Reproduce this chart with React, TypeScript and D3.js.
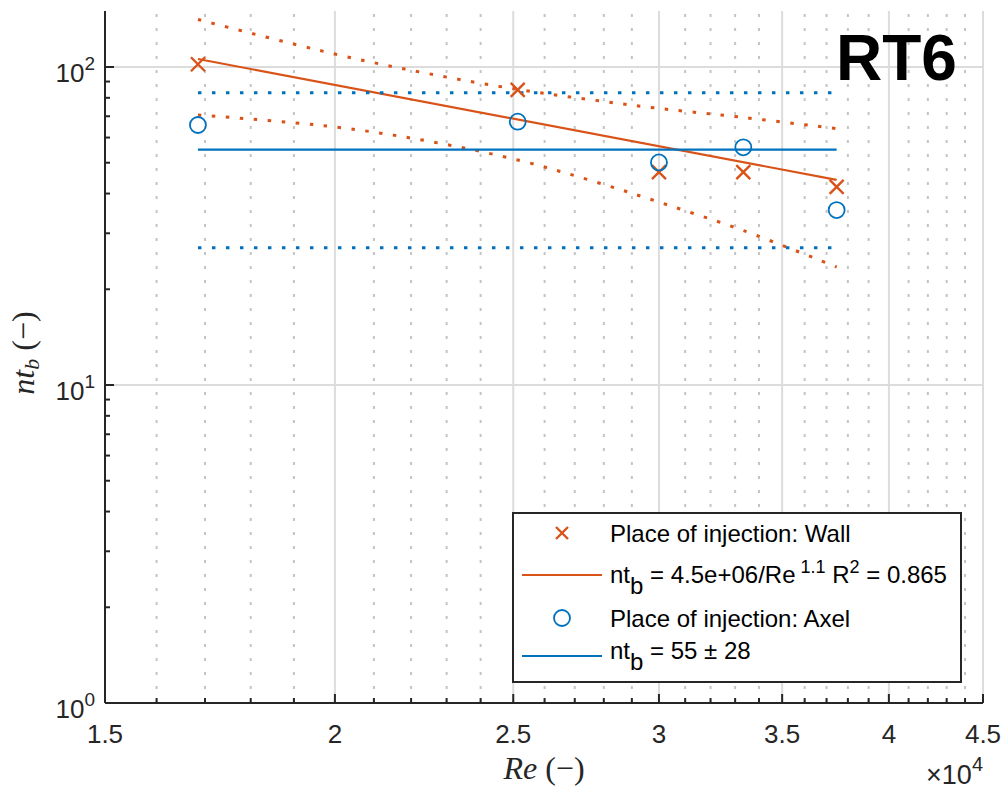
import React from 'react';
import * as d3 from 'd3';

// ---- data ----
const reValues = [16850, 25140, 30000, 33340, 37470];
const ntWall = [102, 84.7, 46.7, 46.7, 42.0];
const ntAxel = [65.7, 67.3, 50.1, 55.9, 35.5];
const bandRe = [16850, 20000, 22500, 25140, 27500, 30000, 33340, 37470];
const wallUpper = [141.1, 109.8, 95.2, 85.0, 79.0, 74.1, 69.4, 64.0];
const wallLower = [70.7, 64.8, 58.4, 51.0, 44.1, 37.6, 30.6, 23.5];
const fitA = 4.5e6;
const fitB = 1.095;
const fitR2 = 0.865;
const axelMean = 55;
const axelSpread = 28;
const xMajorTicks = [1.5e4, 2e4, 2.5e4, 3e4, 3.5e4, 4e4, 4.5e4];
const xTickLabels = ['1.5', '2', '2.5', '3', '3.5', '4', '4.5'];
const yMajorTicks = [1, 10, 100];
const yTickExponents = ['0', '1', '2'];
const legendLabels = ['Place of injection: Wall', 'Place of injection: Axel'];

const ORANGE = '#D95319';
const BLUE = '#0072BD';
const AX = '#262626';
const SANS = '"Liberation Sans", Arial, Helvetica, sans-serif';
const SERIF = '"Liberation Serif", "Times New Roman", serif';

const W = 1006;
const H = 791;
const L = 105, R = 983, T = 11, B = 703;

export default function App() {
  const x = d3.scaleLog().domain([1.5e4, 4.5e4]).range([L, R]);
  const y = d3.scaleLog().domain([1, 150]).range([B, T]);

  const xMinor = d3.range(16000, 45000, 1000).filter((v) => v % 5000 !== 0);
  const yMinor = [1, 10, 100]
    .flatMap((d) => d3.range(2, 10).map((k) => k * d))
    .filter((v) => v <= 150);

  const fit = (re: number) => fitA / Math.pow(re, fitB);
  const reMin = d3.min(reValues)!;
  const reMax = d3.max(reValues)!;

  const band = d3
    .line<number>()
    .x((_, i) => x(bandRe[i]))
    .y((d) => y(d))
    .curve(d3.curveCatmullRom);

  const cross = (cx: number, cy: number, s: number, key?: string) => (
    <path
      key={key}
      d={`M${cx - s},${cy - s}L${cx + s},${cy + s}M${cx - s},${cy + s}L${cx + s},${cy - s}`}
      stroke={ORANGE}
      strokeWidth={2.4}
      fill="none"
    />
  );

  const dotted = { strokeWidth: 3, strokeDasharray: '3.5 10.5' };

  // legend
  const lgX = 513, lgY = 513, lgW = 448, lgH = 169;
  const rowY = [533, 575, 618, 656];
  const txtX = 610;
  const fs = 24;

  return (
    <svg
      width={W}
      height={H}
      style={{ position: 'absolute', left: 0, top: 0, background: '#fff' }}
      fontFamily={SANS}
    >
      <rect x={0} y={0} width={W} height={H} fill="#fff" />
      {/* minor vertical grid */}
      {xMinor.map((v) => (
        <line
          key={'gm' + v}
          x1={x(v)}
          x2={x(v)}
          y1={B}
          y2={T}
          stroke="#c4c4c4"
          strokeWidth={2}
          strokeDasharray="3 11"
        />
      ))}
      {/* major grid */}
      {xMajorTicks.map((v) => (
        <line key={'gx' + v} x1={x(v)} x2={x(v)} y1={B} y2={T} stroke="#dcdcdc" strokeWidth={2} />
      ))}
      {yMajorTicks.map((v) => (
        <line key={'gy' + v} x1={L} x2={R} y1={y(v)} y2={y(v)} stroke="#dcdcdc" strokeWidth={2} />
      ))}

      {/* wall fit and bands */}
      <path d={band(wallUpper)!} fill="none" stroke={ORANGE} {...dotted} />
      <path d={band(wallLower)!} fill="none" stroke={ORANGE} {...dotted} />
      <line
        x1={x(reMin)}
        y1={y(fit(reMin))}
        x2={x(reMax)}
        y2={y(fit(reMax))}
        stroke={ORANGE}
        strokeWidth={2.2}
      />
      {/* axel mean and spread */}
      <line x1={x(reMin)} x2={x(reMax)} y1={y(axelMean)} y2={y(axelMean)} stroke={BLUE} strokeWidth={2.2} />
      {[axelMean + axelSpread, axelMean - axelSpread].map((v) => (
        <line
          key={'ab' + v}
          x1={x(reMin)}
          x2={x(reMax)}
          y1={y(v)}
          y2={y(v)}
          stroke={BLUE}
          {...dotted}
        />
      ))}

      {/* markers */}
      {reValues.map((re, i) => cross(x(re), y(ntWall[i]), 7, 'w' + i))}
      {reValues.map((re, i) => (
        <circle key={'a' + i} cx={x(re)} cy={y(ntAxel[i])} r={8} fill="none" stroke={BLUE} strokeWidth={1.8} />
      ))}

      {/* axes */}
      <line x1={L} x2={R} y1={B} y2={B} stroke={AX} strokeWidth={2} />
      <line x1={L} x2={L} y1={B} y2={T} stroke={AX} strokeWidth={2} />
      {xMajorTicks.map((v, i) => (
        <g key={'xt' + v}>
          <line x1={x(v)} x2={x(v)} y1={B} y2={B - 9} stroke={AX} strokeWidth={2} />
          <text x={x(v)} y={743} textAnchor="middle" fontSize={26} fill={AX}>
            {xTickLabels[i]}
          </text>
        </g>
      ))}
      {xMinor.map((v) => (
        <line key={'xm' + v} x1={x(v)} x2={x(v)} y1={B} y2={B - 5} stroke={AX} strokeWidth={2} />
      ))}
      {yMajorTicks.map((v, i) => (
        <g key={'yt' + v}>
          <line x1={L} x2={L + 9} y1={y(v)} y2={y(v)} stroke={AX} strokeWidth={2} />
          <text x={95} y={y(v) + 15} textAnchor="end" fontSize={26} fill={AX}>
            10
            <tspan dy={-12} fontSize={19}>
              {yTickExponents[i]}
            </tspan>
          </text>
        </g>
      ))}
      {yMinor.map((v) => (
        <line key={'ym' + v} x1={L} x2={L + 5} y1={y(v)} y2={y(v)} stroke={AX} strokeWidth={2} />
      ))}

      {/* x exponent */}
      <text x={983} y={784} textAnchor="end" fontSize={27} fill={AX}>
        ×10
        <tspan dy={-13} fontSize={20}>
          4
        </tspan>
      </text>

      {/* axis labels */}
      <text x={(L + R) / 2} y={779} textAnchor="middle" fontSize={32} fontFamily={SERIF} fill={AX}>
        <tspan fontStyle="italic">Re</tspan> (−)
      </text>
      <text
        transform={`translate(34, 353) rotate(-90)`}
        textAnchor="middle"
        fontSize={32}
        fontFamily={SERIF}
        fill={AX}
      >
        <tspan fontStyle="italic">nt</tspan>
        <tspan fontStyle="italic" fontSize={22} dy={5}>
          b
        </tspan>
        <tspan dy={-5}> (−)</tspan>
      </text>

      {/* title */}
      <text x={836} y={80} fontSize={64} fontWeight="bold" fill="#000">
        RT6
      </text>

      {/* legend */}
      <rect x={lgX} y={lgY} width={lgW} height={lgH} fill="#fff" stroke={AX} strokeWidth={2} />
      {cross(562, rowY[0], 6)}
      <text x={txtX} y={rowY[0] + 9} fontSize={fs} fill="#000">
        {legendLabels[0]}
      </text>
      <line x1={522} x2={602} y1={rowY[1]} y2={rowY[1]} stroke={ORANGE} strokeWidth={2} />
      <text x={txtX} y={rowY[1] + 8} fontSize={fs} fill="#000">
        nt
        <tspan dy={11} fontSize={fs}>b</tspan>
        <tspan dy={-11}>{` = ${(fitA / 1e6).toFixed(1)}e+06/Re`}</tspan>
        <tspan dy={-10} fontSize={18}>{` ${fitB.toFixed(1)}`}</tspan>
        <tspan dy={10}> R</tspan>
        <tspan dy={-10} fontSize={18}>2</tspan>
        <tspan dy={10}>{` = ${fitR2}`}</tspan>
      </text>
      <circle cx={562} cy={rowY[2]} r={8} fill="none" stroke={BLUE} strokeWidth={1.8} />
      <text x={txtX} y={rowY[2] + 9} fontSize={fs} fill="#000">
        {legendLabels[1]}
      </text>
      <line x1={522} x2={602} y1={rowY[3]} y2={rowY[3]} stroke={BLUE} strokeWidth={2} />
      <text x={txtX} y={rowY[3] + 3} fontSize={fs} fill="#000">
        nt
        <tspan dy={11} fontSize={fs}>b</tspan>
        <tspan dy={-11}>{` = ${axelMean} ± ${axelSpread}`}</tspan>
      </text>
    </svg>
  );
}
